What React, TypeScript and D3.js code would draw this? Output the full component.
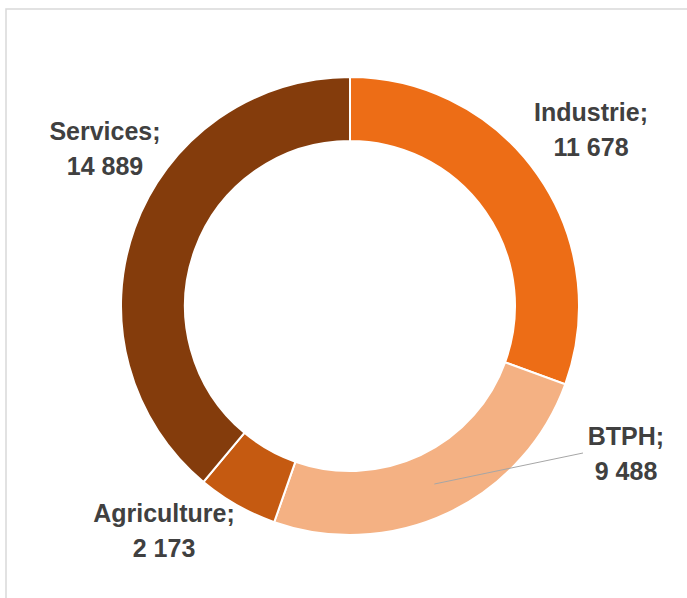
import React from "react";
import * as d3 from "d3";

const categories = ["Industrie", "BTPH", "Agriculture", "Services"];
const values = [11678, 9488, 2173, 14889];
const valueLabels = ["11 678", "9 488", "2 173", "14 889"];
const colors = ["#ED6D16", "#F4B183", "#C55A11", "#843C0C"];

// label anchor (center of first baseline) per slice, as Excel placed them
const labelAnchors: [number, number][] = [
  [591, 121],
  [626, 445],
  [164, 522],
  [105, 140],
];

const width = 687;
const height = 598;
const cx = 350;
const cy = 306;
const outerR = 229;
const innerR = 165;

export default function App() {
  const pie = d3
    .pie<number>()
    .sort(null)
    .value((d) => d);
  const arcs = pie(values);
  const arc = d3
    .arc<d3.PieArcDatum<number>>()
    .innerRadius(innerR)
    .outerRadius(outerR);

  const midArc = d3
    .arc<d3.PieArcDatum<number>>()
    .innerRadius((innerR + outerR) / 2)
    .outerRadius((innerR + outerR) / 2);

  const btph = arcs[1];
  const [lx, ly] = midArc.centroid(btph);

  return (
    <svg
      width={width}
      height={height}
      style={{ position: "absolute", left: 0, top: 0, background: "#fff" }}
    >
      <rect
        x={6}
        y={9}
        width={width + 20}
        height={height + 20}
        fill="#fff"
        stroke="#d9d9d9"
        strokeWidth={1.5}
      />
      <g transform={`translate(${cx},${cy})`}>
        {arcs.map((a, i) => (
          <path
            key={categories[i]}
            d={arc(a) ?? ""}
            fill={colors[i]}
            stroke="#fff"
            strokeWidth={2}
          />
        ))}
        <line
          x1={lx}
          y1={ly}
          x2={labelAnchors[1][0] - 43 - cx}
          y2={labelAnchors[1][1] + 8 - cy}
          stroke="#a6a6a6"
          strokeWidth={1}
        />
      </g>
      {categories.map((c, i) => (
        <text
          key={c}
          x={labelAnchors[i][0]}
          y={labelAnchors[i][1]}
          textAnchor="middle"
          fontFamily="'Liberation Sans', Arial, sans-serif"
          fontWeight="bold"
          fontSize={25}
          fill="#404040"
        >
          <tspan x={labelAnchors[i][0]}>{c};</tspan>
          <tspan x={labelAnchors[i][0]} dy={35}>
            {valueLabels[i]}
          </tspan>
        </text>
      ))}
    </svg>
  );
}
